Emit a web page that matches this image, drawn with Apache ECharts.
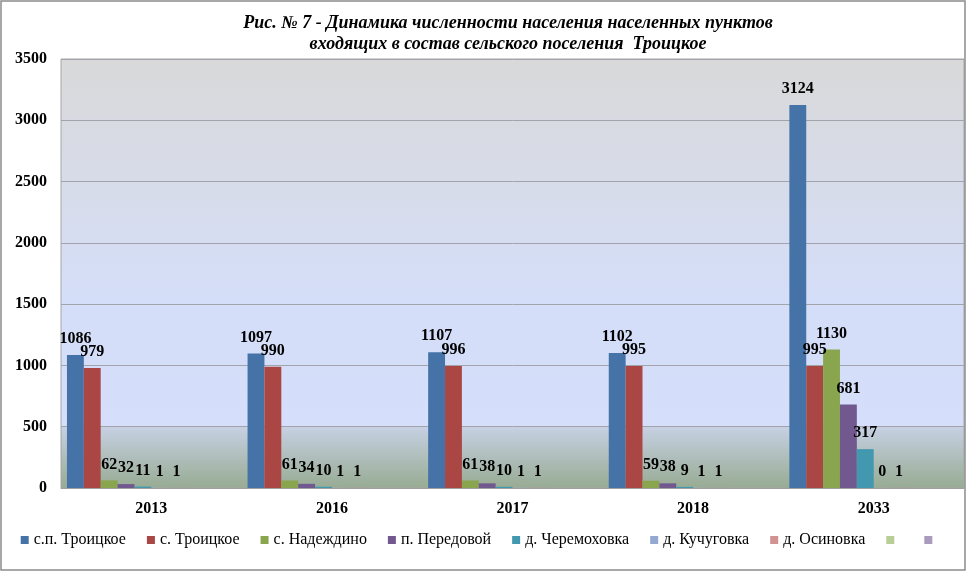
<!DOCTYPE html>
<html>
<head>
<meta charset="utf-8">
<script src="https://cdn.jsdelivr.net/npm/echarts@6/dist/echarts.min.js"></script>
<style>
  html, body { margin: 0; padding: 0; background: #fff; }
  #chart { width: 966px; height: 571px; }
</style>
</head>
<body>
<div id="chart"></div>
<script>
// годы (категории)
const years = ["2013", "2016", "2017", "2018", "2033"];
// численность по населенным пунктам
const spTroitskoe = [1086, 1097, 1107, 1102, 3124];
const sTroitskoe = [979, 990, 996, 995, 995];
const nadezhdino = [62, 61, 61, 59, 1130];
const peredovoy = [32, 34, 38, 38, 681];
const cheremokhovka = [11, 10, 10, 9, 317];
const kuchugovka = [1, 1, 1, 1, 0];
const osinovka = [1, 1, 1, 1, 1];
const emptyRow = [null, null, null, null, null];
const yTicks = [0, 500, 1000, 1500, 2000, 2500, 3000, 3500];

const names = ["с.п. Троицкое", "с. Троицкое", "с. Надеждино", "п. Передовой", "д. Черемоховка", "д. Кучуговка", "д. Осиновка", " ", "  ", "   "];
const values = [spTroitskoe, sTroitskoe, nadezhdino, peredovoy, cheremokhovka, kuchugovka, osinovka, emptyRow, emptyRow, emptyRow];
const colors = ["#4572A7", "#AA4643", "#89A54E", "#71588F", "#4198AF", "#93A9CF", "#D19392", "#B9CD96", "#A99BBD", "#92C3D4"];

const serif = "'Liberation Serif', 'Times New Roman', serif";

let chart = echarts.init(document.getElementById("chart"));

let option = {
  animation: false,
  color: colors,
  graphic: [{
    type: "rect",
    shape: { x: 1, y: 1, width: 964, height: 569 },
    style: { fill: "none", stroke: "#8c8c8c", lineWidth: 1.5 },
    silent: true
  }, {
    type: "text",
    x: 508,
    y: 14,
    style: {
      text: "Рис. № 7 - Динамика численности населения населенных пунктов",
      textAlign: "center",
      font: "italic bold 18px " + serif,
      fill: "#000"
    }
  }, {
    type: "text",
    x: 508,
    y: 35,
    style: {
      text: "входящих в состав сельского поселения  Троицкое",
      textAlign: "center",
      font: "italic bold 18px " + serif,
      fill: "#000"
    }
  }],
  legend: {
    data: names.slice(0, 9),
    bottom: 18,
    left: "center",
    itemWidth: 8,
    itemHeight: 8,
    itemGap: 21,
    icon: "rect",
    textStyle: { fontFamily: serif, fontSize: 16, color: "#000" }
  },
  grid: {
    left: 61,
    top: 59,
    right: 2,
    bottom: 83,
    show: true,
    borderColor: "#a6a6a6",
    borderWidth: 1,
    backgroundColor: {
      type: "linear",
      x: 0, y: 0, x2: 0, y2: 1,
      colorStops: [
        { offset: 0, color: "#D9D9D9" },
        { offset: 0.55, color: "#D5DEF8" },
        { offset: 0.857, color: "#D5DEFA" },
        { offset: 0.858, color: "#C6D0E2" },
        { offset: 1, color: "#97AB92" }
      ]
    }
  },
  xAxis: {
    type: "category",
    data: years,
    axisTick: { show: false },
    axisLine: { lineStyle: { color: "#a0a0a0" } },
    axisLabel: { margin: 13, color: "#000", fontFamily: serif, fontSize: 16, fontWeight: "bold" }
  },
  yAxis: {
    type: "value",
    min: yTicks[0],
    max: yTicks[yTicks.length - 1],
    interval: 500,
    axisLine: { show: false },
    axisTick: { show: false },
    splitLine: { lineStyle: { color: "#a3a3ab", width: 1 } },
    axisLabel: {
      margin: 14,
      color: "#000",
      fontFamily: serif,
      fontSize: 16,
      fontWeight: "bold",
      formatter: function (v) { return String(v); }
    }
  },
  series: names.map(function (name, i) {
    return {
      name: name,
      type: "bar",
      data: values[i],
      barGap: "0%",
      barCategoryGap: "6.6%",
      label: {
        show: true,
        position: "top",
        distance: 8,
        color: "#000",
        fontFamily: serif,
        fontSize: 16,
        fontWeight: "bold"
      }
    };
  })
};

chart.setOption(option, true);
</script>
</body>
</html>
